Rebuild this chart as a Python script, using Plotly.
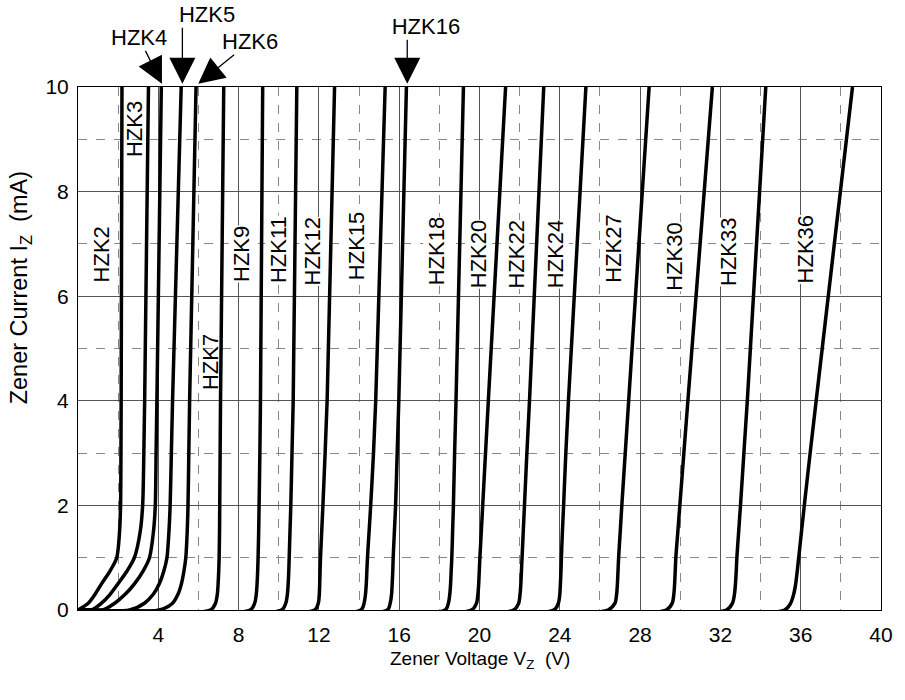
import plotly.graph_objects as go

# ---------------- data ----------------
# current sample points (mA) shared by every curve
current_mA = [0, 0, 0.13, 0.3, 0.5, 0.75, 1, 1.5, 2, 3, 4, 10]

parts = ["HZK2", "HZK3", "HZK4", "HZK5", "HZK6", "HZK7", "HZK9", "HZK11",
         "HZK12", "HZK15", "HZK16", "HZK18", "HZK20", "HZK22", "HZK24",
         "HZK27", "HZK30", "HZK33", "HZK36"]

# zener voltage (V) of each part at the current points above
hzk2 = [0, 0.00, 0.51, 0.85, 1.17, 1.60, 1.93, 2.07, 2.12, 2.14, 2.15, 2.19]
hzk3 = [0, 0.68, 1.17, 1.60, 1.99, 2.45, 2.81, 3.10, 3.22, 3.28, 3.32, 3.51]
hzk4 = [0, 1.23, 1.83, 2.35, 2.81, 3.25, 3.56, 3.76, 3.85, 3.89, 3.93, 4.15]
hzk5 = [0, 2.57, 3.31, 3.75, 4.05, 4.28, 4.43, 4.53, 4.59, 4.65, 4.71, 5.14]
hzk6 = [0, 4.05, 4.71, 4.98, 5.15, 5.28, 5.37, 5.44, 5.48, 5.52, 5.56, 5.88]
hzk7 = [0, 6.60, 6.85, 6.94, 6.98, 7.01, 7.03, 7.05, 7.06, 7.08, 7.10, 7.26]
hzk9 = [0, 8.58, 8.80, 8.88, 8.92, 8.95, 8.97, 9.00, 9.02, 9.06, 9.09, 9.20]
hzk11 = [0, 10.14, 10.35, 10.43, 10.47, 10.50, 10.52, 10.56, 10.60, 10.66, 10.72, 10.90]
hzk12 = [0, 11.79, 11.97, 12.02, 12.04, 12.06, 12.08, 12.14, 12.20, 12.31, 12.41, 12.78]
hzk15 = [0, 14.09, 14.25, 14.32, 14.36, 14.39, 14.42, 14.50, 14.58, 14.72, 14.83, 15.30]
hzk16 = [0, 15.41, 15.55, 15.62, 15.65, 15.68, 15.70, 15.76, 15.82, 15.90, 15.98, 16.36]
hzk18 = [0, 18.29, 18.45, 18.52, 18.56, 18.59, 18.62, 18.66, 18.70, 18.76, 18.83, 19.20]
hzk20 = [0, 19.60, 19.85, 19.92, 19.96, 19.99, 20.02, 20.09, 20.16, 20.30, 20.44, 21.30]
hzk22 = [0, 21.70, 21.95, 22.02, 22.06, 22.09, 22.12, 22.18, 22.24, 22.36, 22.49, 23.20]
hzk24 = [0, 23.70, 23.93, 24.00, 24.03, 24.06, 24.08, 24.13, 24.19, 24.30, 24.43, 25.30]
hzk27 = [0, 26.40, 26.75, 26.83, 26.87, 26.90, 26.93, 27.01, 27.09, 27.26, 27.43, 28.45]
hzk30 = [0, 29.30, 29.60, 29.68, 29.72, 29.75, 29.78, 29.88, 29.98, 30.18, 30.38, 31.60]
hzk33 = [0, 32.30, 32.60, 32.70, 32.75, 32.79, 32.82, 32.91, 33.00, 33.17, 33.34, 34.26]
hzk36 = [0, 35.20, 35.50, 35.65, 35.75, 35.83, 35.90, 36.04, 36.18, 36.47, 36.77, 38.58]

voltages = [hzk2, hzk3, hzk4, hzk5, hzk6, hzk7, hzk9, hzk11, hzk12, hzk15,
            hzk16, hzk18, hzk20, hzk22, hzk24, hzk27, hzk30, hzk33, hzk36]

x_tick_vals = [4, 8, 12, 16, 20, 24, 28, 32, 36, 40]
y_tick_vals = [0, 2, 4, 6, 8, 10]

# ---------------- label placement (layout, not data) ----------------
# rotated in-plot labels: (text, x in V, y in mA, white background?)
inplot_labels = [
    ("HZK2", 1.15, 6.8, True), ("HZK3", 2.85, 9.2, False),
    ("HZK7", 6.6, 4.75, False), ("HZK9", 8.15, 6.8, True),
    ("HZK11", 9.96, 6.9, True), ("HZK12", 11.69, 6.85, True),
    ("HZK15", 13.88, 6.95, True), ("HZK18", 17.86, 6.85, True),
    ("HZK20", 19.92, 6.8, True), ("HZK22", 21.83, 6.8, True),
    ("HZK24", 23.8, 6.8, True), ("HZK27", 26.68, 6.9, True),
    ("HZK30", 29.73, 6.75, True), ("HZK33", 32.44, 6.85, True),
    ("HZK36", 36.23, 6.9, True),
]
# labels above the plot with arrows:
# (text, leading pad spaces, arrow tip x in V, text offset ax, ay in px)
top_labels = [
    ("HZK4", 0, 4.18, -23, -46),
    ("HZK5", 4, 5.20, 0, -69),
    ("HZK6", 0, 5.99, 52, -42),
    ("HZK16", 3, 16.40, 0, -57),
]

FONT = "Liberation Sans, Arial, Helvetica, sans-serif"

fig = go.Figure()
for name, v in zip(parts, voltages):
    fig.add_trace(go.Scatter(
        x=v, y=current_mA, mode="lines", name=name,
        line=dict(color="black", width=3.5, shape="spline", smoothing=0.8),
        showlegend=False, hoverinfo="skip"))

annotations = []
for text, x, y, bg in inplot_labels:
    annotations.append(dict(x=x, y=y, xref="x", yref="y", text=text,
                            textangle=-90, showarrow=False,
                            font=dict(size=22, color="black", family=FONT),
                            bgcolor="white" if bg else "rgba(0,0,0,0)",
                            borderpad=0))
for text, pad, tipx, ax, ay in top_labels:
    annotations.append(dict(x=tipx, y=1.006, xref="x", yref="paper",
                            text="&nbsp;" * (2 * pad) + text,
                            showarrow=True, ax=ax, ay=ay, arrowhead=2,
                            arrowsize=4.0, arrowwidth=1.3, arrowcolor="black",
                            standoff=0, borderpad=0,
                            font=dict(size=22, color="black", family=FONT)))
annotations.append(dict(x=0.5, y=-0.096, xref="paper", yref="paper",
                        xanchor="center", yanchor="middle",
                        text="Zener Voltage V<sub>Z</sub>  (V)", showarrow=False,
                        font=dict(size=19, color="black", family=FONT)))
annotations.append(dict(x=-0.0716, y=0.616, xref="paper", yref="paper",
                        xanchor="center", yanchor="middle",
                        text="Zener Current I<sub>Z</sub>  (mA)", showarrow=False,
                        textangle=-90,
                        font=dict(size=23.5, color="black", family=FONT)))

fig.update_layout(
    width=905, height=700,
    margin=dict(l=78, r=17, t=87, b=90),
    paper_bgcolor="white", plot_bgcolor="white",
    font=dict(family=FONT, size=21, color="black"),
    annotations=annotations,
    xaxis=dict(range=[0, 40], tickvals=x_tick_vals, ticks="",
               showgrid=True, gridcolor="#555", gridwidth=1,
               minor=dict(dtick=2, showgrid=True, gridcolor="#888",
                          griddash="dash", gridwidth=1),
               showline=True, linecolor="black", linewidth=1, mirror=True,
               zeroline=False, tickfont=dict(size=21), ticklabelstandoff=6),
    yaxis=dict(range=[0, 10], tickvals=y_tick_vals, ticks="",
               showgrid=True, gridcolor="#555", gridwidth=1,
               minor=dict(dtick=1, showgrid=True, gridcolor="#888",
                          griddash="dash", gridwidth=1),
               showline=True, linecolor="black", linewidth=1, mirror=True,
               zeroline=False, tickfont=dict(size=21), ticklabelstandoff=4),
)

fig.write_html("out.html",
               config={"displayModeBar": False},
               post_script="document.body.style.margin='0';"
                           "document.body.style.padding='0';")
